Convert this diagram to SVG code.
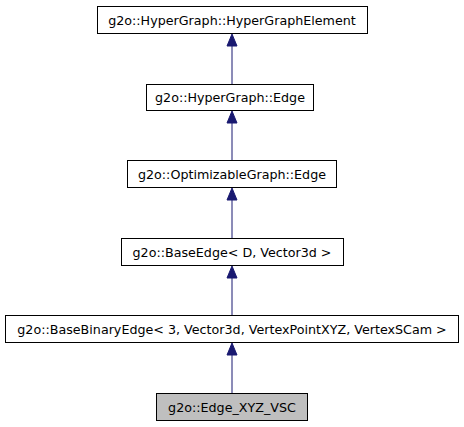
<svg xmlns="http://www.w3.org/2000/svg" width="464" height="427" viewBox="0 0 464 427">
<style>
.box{fill:#ffffff;stroke:#000000;stroke-width:1}
.cur{fill:#bfbfbf;stroke:#000000;stroke-width:1}
text{font-family:"DejaVu Sans",sans-serif;font-size:12.7px;fill:#000000;text-anchor:middle}
.edge{stroke:#191970;stroke-width:1;fill:none}
.head{fill:#191970;stroke:#191970;stroke-width:1}
</style>
<rect width="464" height="427" fill="#ffffff"/>
<g id="connectors">
<line class="edge" x1="232" y1="393" x2="232" y2="354"/>
<polygon class="head" points="232,343 227,355 237,355"/>
<line class="edge" x1="232" y1="315" x2="232" y2="277"/>
<polygon class="head" points="232,266 227,278 237,278"/>
<line class="edge" x1="232" y1="238" x2="232" y2="199"/>
<polygon class="head" points="232,188 227,200 237,200"/>
<line class="edge" x1="232" y1="160" x2="232" y2="122"/>
<polygon class="head" points="232,111 227,123 237,123"/>
<line class="edge" x1="232" y1="84" x2="232" y2="45"/>
<polygon class="head" points="232,34 227,46 237,46"/>
</g>
<g id="n1"><rect class="box" x="97.5" y="6.5" width="270" height="27"/><text x="232" y="24.5">g2o::HyperGraph::HyperGraphElement</text></g>
<g id="n2"><rect class="box" x="146.5" y="84.5" width="167" height="26"/><text x="230" y="102">g2o::HyperGraph::Edge</text></g>
<g id="n3"><rect class="box" x="127.5" y="160.5" width="209" height="27"/><text x="232" y="178.5">g2o::OptimizableGraph::Edge</text></g>
<g id="n4"><rect class="box" x="121.5" y="238.5" width="222" height="27"/><text x="232" y="256.5">g2o::BaseEdge&lt; D, Vector3d &gt;</text></g>
<g id="n5"><rect class="box" x="5.5" y="315.5" width="453" height="27"/><text x="232" y="333.5">g2o::BaseBinaryEdge&lt; 3, Vector3d, VertexPointXYZ, VertexSCam &gt;</text></g>
<g id="n6"><rect class="cur" x="156.5" y="393.5" width="151" height="27"/><text x="232" y="411.5">g2o::Edge_XYZ_VSC</text></g>
</svg>
